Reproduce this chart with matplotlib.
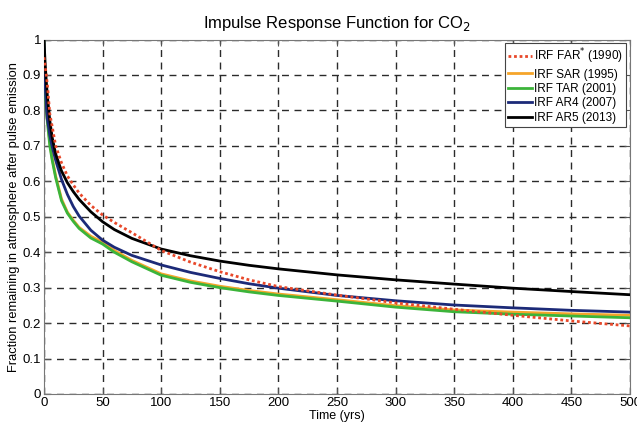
import matplotlib
matplotlib.use("Agg")
import matplotlib.pyplot as plt

plt.rcParams['font.family'] = ['Liberation Sans', 'DejaVu Sans']

# years after the pulse
t = [0, 1, 2, 3, 5, 7, 10, 15, 20, 25, 30, 40, 50, 60, 75, 100, 125, 150,
     175, 200, 250, 300, 350, 400, 450, 500]

irf_far = [0.95, 0.925, 0.90, 0.87, 0.79, 0.755, 0.70, 0.652, 0.615, 0.59,
           0.567, 0.532, 0.505, 0.484, 0.455, 0.405, 0.372, 0.345, 0.322,
           0.303, 0.279, 0.257, 0.239, 0.222, 0.206, 0.192]
irf_sar = [1.0, 0.86, 0.81, 0.775, 0.71, 0.665, 0.615, 0.55, 0.513, 0.49,
           0.47, 0.445, 0.428, 0.405, 0.377, 0.339, 0.319, 0.304, 0.292,
           0.282, 0.266, 0.249, 0.237, 0.231, 0.226, 0.222]
irf_tar = [1.0, 0.85, 0.80, 0.765, 0.70, 0.66, 0.61, 0.545, 0.51, 0.487,
           0.467, 0.44, 0.423, 0.40, 0.373, 0.335, 0.315, 0.30, 0.288,
           0.278, 0.262, 0.245, 0.232, 0.225, 0.22, 0.215]
irf_ar4 = [1.0, 0.875, 0.811, 0.774, 0.73, 0.698, 0.659, 0.605, 0.563, 0.529,
           0.502, 0.462, 0.434, 0.414, 0.391, 0.364, 0.343, 0.326, 0.311,
           0.2985, 0.278, 0.263, 0.251, 0.243, 0.236, 0.231]
irf_ar5 = [1.0, 0.934, 0.881, 0.837, 0.771, 0.724, 0.677, 0.629, 0.596, 0.571,
           0.549, 0.514, 0.486, 0.464, 0.439, 0.409, 0.390, 0.375, 0.363,
           0.353, 0.336, 0.322, 0.310, 0.2985, 0.289, 0.280]

labels = ["IRF FAR$^{*}$ (1990)", "IRF SAR (1995)", "IRF TAR (2001)",
          "IRF AR4 (2007)", "IRF AR5 (2013)"]

xticks = [0, 50, 100, 150, 200, 250, 300, 350, 400, 450, 500]
yticks = [0, 0.1, 0.2, 0.3, 0.4, 0.5, 0.6, 0.7, 0.8, 0.9, 1]
ytick_labels = ["0", "0.1", "0.2", "0.3", "0.4", "0.5", "0.6", "0.7", "0.8", "0.9", "1"]

fig = plt.figure(figsize=(6.37, 4.25), dpi=100)
ax = fig.add_axes([0.069, 0.073, 0.92, 0.834])

ax.plot(t, irf_far, color='#e8482a', ls=(0, (1, 1)), lw=2.0, label=labels[0], zorder=5)
ax.plot(t, irf_sar, color='#f5a52a', lw=2.0, label=labels[1], zorder=3)
ax.plot(t, irf_tar, color='#3cb43a', lw=2.0, label=labels[2], zorder=3)
ax.plot(t, irf_ar4, color='#1c2a78', lw=2.0, label=labels[3], zorder=4)
ax.plot(t, irf_ar5, color='black', lw=2.0, label=labels[4], zorder=4)

ax.set_xlim(0, 500)
ax.set_ylim(0, 1)
ax.set_xticks(xticks)
ax.set_xticklabels([str(x) for x in xticks])
ax.set_yticks(yticks)
ax.set_yticklabels(ytick_labels)
ax.tick_params(direction='in', top=True, right=True, labelsize=9.5, length=4,
               color='#555555', pad=2)
ax.grid(True, color='#2a2a2a', ls=(0, (5, 4)), lw=1.0)
for s in ax.spines.values():
    s.set_color('#777777')

ax.set_title("Impulse Response Function for CO$_2$", fontsize=12, pad=8)
ax.set_xlabel("Time (yrs)", fontsize=9, labelpad=1)
ax.set_ylabel("Fraction remaining in atmosphere after pulse emission", fontsize=9.3, labelpad=2)

leg = ax.legend(loc='upper right', fontsize=8.5, handlelength=2.0, handletextpad=0.2,
                borderaxespad=0.3, labelspacing=0.2, borderpad=0.3, fancybox=False,
                framealpha=1)
leg.get_frame().set_edgecolor('#444444')
leg.get_frame().set_linewidth(0.8)

plt.savefig("out.png", dpi=100)
